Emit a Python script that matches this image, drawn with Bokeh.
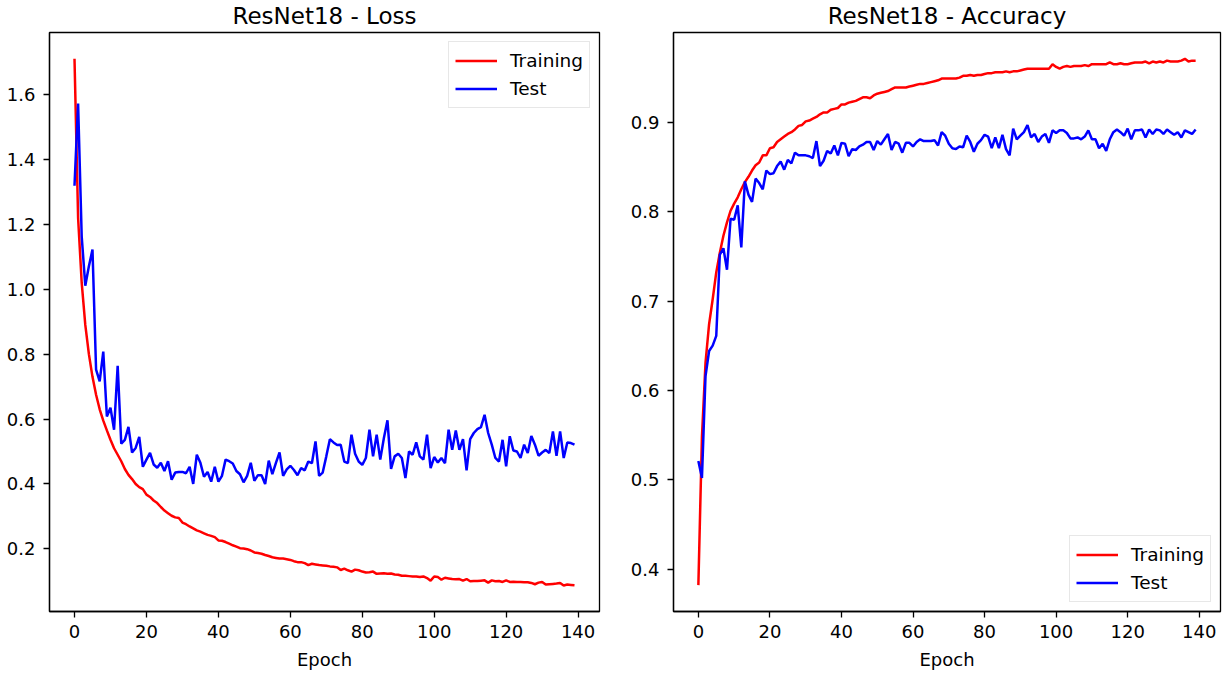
from bokeh.plotting import figure
from bokeh.layouts import row
from bokeh.models import Range1d, FixedTicker, Legend, LegendItem
from bokeh.embed import file_html
from bokeh.resources import INLINE

epochs = list(range(140))

train_loss = [1.71, 1.22, 1.02, 0.89, 0.80, 0.73, 0.675, 0.63, 0.595, 0.565,
              0.536, 0.51, 0.49, 0.47, 0.446, 0.428, 0.415, 0.40, 0.39, 0.384,
              0.367, 0.36, 0.349, 0.341, 0.329, 0.318, 0.31, 0.302, 0.297, 0.295,
              0.281, 0.276, 0.269, 0.263, 0.257, 0.253, 0.248, 0.243, 0.240, 0.236,
              0.226, 0.225, 0.221, 0.216, 0.211, 0.207, 0.202, 0.201, 0.199, 0.195,
              0.189, 0.187, 0.185, 0.181, 0.178, 0.174, 0.172, 0.170, 0.170, 0.168,
              0.166, 0.162, 0.159, 0.159, 0.156, 0.150, 0.154, 0.152, 0.150, 0.149,
              0.148, 0.146, 0.145, 0.143, 0.135, 0.139, 0.134, 0.130, 0.136, 0.134,
              0.130, 0.127, 0.128, 0.130, 0.123, 0.124, 0.125, 0.123, 0.124, 0.121,
              0.120, 0.117, 0.117, 0.116, 0.115, 0.115, 0.113, 0.115, 0.110, 0.102,
              0.115, 0.113, 0.105, 0.111, 0.109, 0.107, 0.106, 0.107, 0.102, 0.107,
              0.100, 0.101, 0.101, 0.102, 0.103, 0.096, 0.103, 0.100, 0.101, 0.098,
              0.103, 0.098, 0.099, 0.098, 0.098, 0.097, 0.097, 0.095, 0.091, 0.096,
              0.098, 0.090, 0.091, 0.092, 0.093, 0.095, 0.087, 0.090, 0.089, 0.088]

test_loss = [1.319, 1.572, 1.163, 1.011, 1.071, 1.122, 0.752, 0.716, 0.808, 0.608,
             0.635, 0.567, 0.764, 0.524, 0.536, 0.576, 0.497, 0.511, 0.545, 0.453,
             0.475, 0.496, 0.46, 0.45, 0.465, 0.44, 0.47, 0.413, 0.435, 0.437,
             0.437, 0.433, 0.453, 0.40, 0.49, 0.465, 0.422, 0.437, 0.407, 0.453,
             0.407, 0.425, 0.475, 0.47, 0.463, 0.44, 0.43, 0.405, 0.425, 0.465,
             0.41, 0.427, 0.427, 0.40, 0.472, 0.43, 0.465, 0.497, 0.425, 0.445,
             0.456, 0.443, 0.427, 0.449, 0.442, 0.469, 0.464, 0.531, 0.425, 0.435,
             0.485, 0.538, 0.528, 0.520, 0.521, 0.469, 0.464, 0.552, 0.493, 0.469,
             0.459, 0.480, 0.567, 0.485, 0.552, 0.475, 0.541, 0.596, 0.446, 0.485,
             0.493, 0.480, 0.418, 0.500, 0.490, 0.528, 0.485, 0.475, 0.552, 0.449,
             0.483, 0.466, 0.480, 0.464, 0.567, 0.505, 0.565, 0.505, 0.538, 0.442,
             0.538, 0.557, 0.569, 0.575, 0.613, 0.557, 0.521, 0.480, 0.469, 0.536,
             0.454, 0.547, 0.503, 0.500, 0.480, 0.521, 0.495, 0.548, 0.521, 0.487,
             0.497, 0.505, 0.495, 0.562, 0.487, 0.562, 0.480, 0.528, 0.526, 0.521]

train_acc = [0.382, 0.548, 0.631, 0.674, 0.702, 0.732, 0.754, 0.773, 0.788, 0.801,
             0.809, 0.816, 0.825, 0.833, 0.839, 0.846, 0.852, 0.855, 0.863, 0.863,
             0.871, 0.872, 0.878, 0.881, 0.884, 0.887, 0.889, 0.892, 0.896, 0.897,
             0.901, 0.902, 0.904, 0.906, 0.909, 0.911, 0.911, 0.914, 0.915, 0.916,
             0.920, 0.920, 0.922, 0.923, 0.924, 0.926, 0.928, 0.928, 0.927, 0.930,
             0.932, 0.933, 0.934, 0.935, 0.937, 0.939, 0.939, 0.939, 0.939, 0.940,
             0.941, 0.942, 0.943, 0.943, 0.944, 0.945, 0.946, 0.947, 0.949, 0.949,
             0.949, 0.949, 0.949, 0.950, 0.952, 0.952, 0.953, 0.952, 0.953, 0.953,
             0.954, 0.955, 0.955, 0.956, 0.956, 0.956, 0.957, 0.956, 0.957, 0.957,
             0.958, 0.959, 0.960, 0.960, 0.960, 0.960, 0.960, 0.960, 0.960, 0.965,
             0.962, 0.960, 0.962, 0.963, 0.962, 0.963, 0.963, 0.963, 0.964, 0.963,
             0.965, 0.965, 0.965, 0.965, 0.965, 0.967, 0.965, 0.965, 0.966, 0.965,
             0.965, 0.966, 0.967, 0.967, 0.967, 0.968, 0.966, 0.968, 0.967, 0.968,
             0.967, 0.969, 0.968, 0.968, 0.968, 0.969, 0.971, 0.968, 0.969, 0.969]

test_acc = [0.521, 0.502, 0.616, 0.644, 0.650, 0.661, 0.752, 0.759, 0.735, 0.792,
            0.791, 0.807, 0.760, 0.834, 0.819, 0.811, 0.837, 0.832, 0.825, 0.846,
            0.842, 0.843, 0.851, 0.856, 0.847, 0.858, 0.854, 0.866, 0.863, 0.863,
            0.863, 0.862, 0.860, 0.879, 0.851, 0.857, 0.868, 0.865, 0.874, 0.863,
            0.877, 0.876, 0.862, 0.870, 0.869, 0.873, 0.875, 0.878, 0.878, 0.869,
            0.879, 0.875, 0.881, 0.887, 0.869, 0.878, 0.876, 0.866, 0.877, 0.877,
            0.873, 0.878, 0.881, 0.879, 0.879, 0.879, 0.880, 0.874, 0.889, 0.885,
            0.876, 0.871, 0.870, 0.873, 0.872, 0.885, 0.878, 0.867, 0.876, 0.880,
            0.886, 0.884, 0.871, 0.883, 0.871, 0.886, 0.870, 0.863, 0.893, 0.881,
            0.885, 0.889, 0.897, 0.883, 0.887, 0.878, 0.884, 0.887, 0.877, 0.891,
            0.888, 0.891, 0.891, 0.888, 0.882, 0.882, 0.883, 0.881, 0.884, 0.891,
            0.881, 0.881, 0.871, 0.876, 0.868, 0.881, 0.889, 0.892, 0.889, 0.885,
            0.893, 0.881, 0.891, 0.891, 0.892, 0.883, 0.892, 0.887, 0.892, 0.891,
            0.887, 0.892, 0.889, 0.886, 0.889, 0.883, 0.891, 0.889, 0.887, 0.892]

x_ticks = [0, 20, 40, 60, 80, 100, 120, 140]
loss_ticks = [0.2, 0.4, 0.6, 0.8, 1.0, 1.2, 1.4, 1.6]
acc_ticks = [0.4, 0.5, 0.6, 0.7, 0.8, 0.9]

FONT = "DejaVu Sans"


def style(p, yticks):
    p.title.text_font = FONT
    p.title.text_font_size = "23px"
    p.title.text_font_style = "normal"
    p.title.text_color = "black"
    p.title.vertical_align = "top"
    p.title.align = "center"
    p.title.standoff = 4
    p.grid.visible = False
    p.outline_line_color = "black"
    p.outline_line_width = 1.3
    p.outline_line_alpha = 1.0
    p.xaxis.ticker = FixedTicker(ticks=x_ticks)
    p.yaxis.ticker = FixedTicker(ticks=yticks)
    p.yaxis.major_label_overrides = {t: f"{t:.1f}" for t in yticks}
    for ax in (p.xaxis[0], p.yaxis[0]):
        ax.axis_line_color = "black"
        ax.axis_line_width = 1.3
        ax.major_tick_line_color = "black"
        ax.major_tick_line_width = 1.3
        ax.major_tick_out = 6
        ax.major_tick_in = 0
        ax.minor_tick_line_color = None
        ax.major_label_text_font = FONT
        ax.major_label_text_font_size = "18px"
        ax.major_label_text_color = "black"
        ax.axis_label_text_font = FONT
        ax.axis_label_text_font_size = "18px"
        ax.axis_label_text_font_style = "normal"
        ax.axis_label_text_color = "black"
    p.xaxis.axis_label = "Epoch"
    p.xaxis.major_label_standoff = 7
    p.xaxis.axis_label_standoff = 8
    p.yaxis.major_label_standoff = 8


def add_legend(p, r1, r2, loc):
    leg = Legend(items=[LegendItem(label="Training", renderers=[r1]),
                        LegendItem(label="Test", renderers=[r2])],
                 location=loc)
    leg.label_text_font = FONT
    leg.label_text_font_size = "18.5px"
    leg.label_text_color = "black"
    leg.glyph_width = 42
    leg.glyph_height = 25
    leg.label_height = 25
    leg.label_standoff = 13
    leg.spacing = 3
    leg.padding = 6
    leg.margin = 9
    leg.border_line_color = "#d0d0d0"
    leg.border_line_width = 1.3
    leg.background_fill_color = "white"
    leg.background_fill_alpha = 0.8
    p.add_layout(leg)


p1 = figure(width=627, height=674, x_range=Range1d(-6.95, 145.95),
            y_range=Range1d(0.007, 1.791), title="ResNet18 - Loss",
            min_border_left=49, min_border_right=28, min_border_top=32,
            min_border_bottom=63, output_backend="svg", toolbar_location=None)
style(p1, loss_ticks)
a1 = p1.line(epochs, train_loss, line_color="#ff0000", line_width=2.5)
b1 = p1.line(epochs, test_loss, line_color="#0000ff", line_width=2.5)
add_legend(p1, a1, b1, "top_right")

p2 = figure(width=596, height=674, x_range=Range1d(-6.95, 145.95),
            y_range=Range1d(0.3525, 1.0005), title="ResNet18 - Accuracy",
            min_border_left=39, min_border_right=3, min_border_top=32,
            min_border_bottom=63, output_backend="svg", toolbar_location=None)
style(p2, acc_ticks)
a2 = p2.line(epochs, train_acc, line_color="#ff0000", line_width=2.5)
b2 = p2.line(epochs, test_acc, line_color="#0000ff", line_width=2.5)
add_legend(p2, a2, b2, "bottom_right")

layout = row(p1, p2)
open("out.html", "w").write(file_html(layout, INLINE))
